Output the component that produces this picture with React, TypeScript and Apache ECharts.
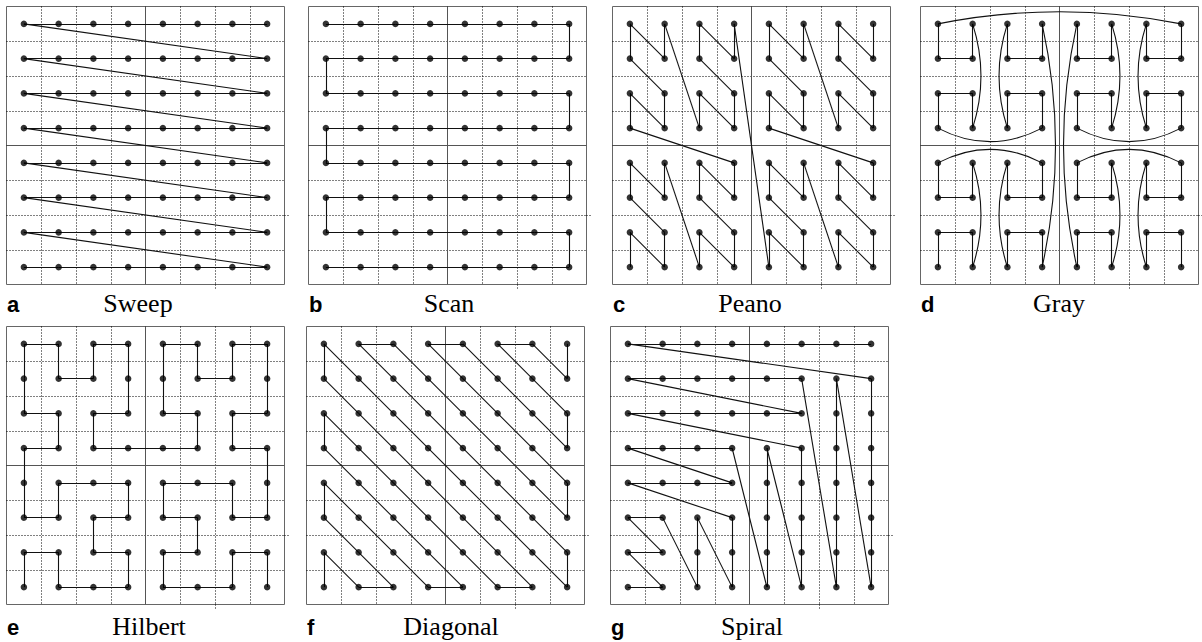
import React, { useEffect, useRef } from "react";
import * as echarts from "echarts";

type Cell = [number, number];

// Cell orders [column, row] (row 0 = top) of the seven scan curves
const sweepPath: Cell[] = [
  [7,0],[6,0],[5,0],[4,0],[3,0],[2,0],[1,0],[0,0],
  [7,1],[6,1],[5,1],[4,1],[3,1],[2,1],[1,1],[0,1],
  [7,2],[6,2],[5,2],[4,2],[3,2],[2,2],[1,2],[0,2],
  [7,3],[6,3],[5,3],[4,3],[3,3],[2,3],[1,3],[0,3],
  [7,4],[6,4],[5,4],[4,4],[3,4],[2,4],[1,4],[0,4],
  [7,5],[6,5],[5,5],[4,5],[3,5],[2,5],[1,5],[0,5],
  [7,6],[6,6],[5,6],[4,6],[3,6],[2,6],[1,6],[0,6],
  [7,7],[6,7],[5,7],[4,7],[3,7],[2,7],[1,7],[0,7],
];

const scanPath: Cell[] = [
  [0,0],[1,0],[2,0],[3,0],[4,0],[5,0],[6,0],[7,0],
  [7,1],[6,1],[5,1],[4,1],[3,1],[2,1],[1,1],[0,1],
  [0,2],[1,2],[2,2],[3,2],[4,2],[5,2],[6,2],[7,2],
  [7,3],[6,3],[5,3],[4,3],[3,3],[2,3],[1,3],[0,3],
  [0,4],[1,4],[2,4],[3,4],[4,4],[5,4],[6,4],[7,4],
  [7,5],[6,5],[5,5],[4,5],[3,5],[2,5],[1,5],[0,5],
  [0,6],[1,6],[2,6],[3,6],[4,6],[5,6],[6,6],[7,6],
  [7,7],[6,7],[5,7],[4,7],[3,7],[2,7],[1,7],[0,7],
];

const peanoPath: Cell[] = [
  [0,7],[0,6],[1,7],[1,6],[0,5],[0,4],[1,5],[1,4],
  [2,7],[2,6],[3,7],[3,6],[2,5],[2,4],[3,5],[3,4],
  [0,3],[0,2],[1,3],[1,2],[0,1],[0,0],[1,1],[1,0],
  [2,3],[2,2],[3,3],[3,2],[2,1],[2,0],[3,1],[3,0],
  [4,7],[4,6],[5,7],[5,6],[4,5],[4,4],[5,5],[5,4],
  [6,7],[6,6],[7,7],[7,6],[6,5],[6,4],[7,5],[7,4],
  [4,3],[4,2],[5,3],[5,2],[4,1],[4,0],[5,1],[5,0],
  [6,3],[6,2],[7,3],[7,2],[6,1],[6,0],[7,1],[7,0],
];

const grayPath: Cell[] = [
  [0,7],[0,6],[1,6],[1,7],[1,4],[1,5],[0,5],[0,4],
  [3,4],[3,5],[2,5],[2,4],[2,7],[2,6],[3,6],[3,7],
  [3,0],[3,1],[2,1],[2,0],[2,3],[2,2],[3,2],[3,3],
  [0,3],[0,2],[1,2],[1,3],[1,0],[1,1],[0,1],[0,0],
  [7,0],[7,1],[6,1],[6,0],[6,3],[6,2],[7,2],[7,3],
  [4,3],[4,2],[5,2],[5,3],[5,0],[5,1],[4,1],[4,0],
  [4,7],[4,6],[5,6],[5,7],[5,4],[5,5],[4,5],[4,4],
  [7,4],[7,5],[6,5],[6,4],[6,7],[6,6],[7,6],[7,7],
];

const hilbertPath: Cell[] = [
  [0,7],[0,6],[1,6],[1,7],[2,7],[3,7],[3,6],[2,6],
  [2,5],[3,5],[3,4],[2,4],[1,4],[1,5],[0,5],[0,4],
  [0,3],[1,3],[1,2],[0,2],[0,1],[0,0],[1,0],[1,1],
  [2,1],[2,0],[3,0],[3,1],[3,2],[2,2],[2,3],[3,3],
  [4,3],[5,3],[5,2],[4,2],[4,1],[4,0],[5,0],[5,1],
  [6,1],[6,0],[7,0],[7,1],[7,2],[6,2],[6,3],[7,3],
  [7,4],[7,5],[6,5],[6,4],[5,4],[4,4],[4,5],[5,5],
  [5,6],[4,6],[4,7],[5,7],[6,7],[6,6],[7,6],[7,7],
];

const diagonalPath: Cell[] = [
  [7,0],
  [7,1],[6,0],
  [5,0],[6,1],[7,2],
  [7,3],[6,2],[5,1],[4,0],
  [3,0],[4,1],[5,2],[6,3],[7,4],
  [7,5],[6,4],[5,3],[4,2],[3,1],[2,0],
  [1,0],[2,1],[3,2],[4,3],[5,4],[6,5],[7,6],
  [7,7],[6,6],[5,5],[4,4],[3,3],[2,2],[1,1],[0,0],
  [0,1],[1,2],[2,3],[3,4],[4,5],[5,6],[6,7],
  [5,7],[4,6],[3,5],[2,4],[1,3],[0,2],
  [0,3],[1,4],[2,5],[3,6],[4,7],
  [3,7],[2,6],[1,5],[0,4],
  [0,5],[1,6],[2,7],
  [1,7],[0,6],
  [0,7],
];

const spiralPath: Cell[] = [
  [0,7],[1,7],[0,6],[1,6],[0,5],[1,5],
  [2,7],[2,6],[2,5],[3,7],[3,6],[3,5],
  [0,4],[1,4],[2,4],[3,4],[0,3],[1,3],[2,3],[3,3],
  [4,7],[4,6],[4,5],[4,4],[4,3],[5,7],[5,6],[5,5],[5,4],[5,3],
  [0,2],[1,2],[2,2],[3,2],[4,2],[5,2],[0,1],[1,1],[2,1],[3,1],[4,1],[5,1],
  [6,7],[6,6],[6,5],[6,4],[6,3],[6,2],[6,1],
  [7,7],[7,6],[7,5],[7,4],[7,3],[7,2],[7,1],
  [0,0],[1,0],[2,0],[3,0],[4,0],[5,0],[6,0],[7,0],
];

const panelLetters = ["a", "b", "c", "d", "e", "f", "g"];
const panelNames = ["Sweep", "Scan", "Peano", "Gray", "Hilbert", "Diagonal", "Spiral"];
const panelPaths = [sweepPath, scanPath, peanoPath, grayPath, hilbertPath, diagonalPath, spiralPath];
const panelCurved = [false, false, false, true, false, false, false];

// quadrant dividers (solid) in cell units
const quadrantDividers: [number, number][][] = [
  [[4, 0], [4, 8]],
  [[0, 4], [8, 4]],
];

// layout (pixels)
const BOX = 278;
const boxes = [
  { left: 6.5, top: 6.5 },
  { left: 308.5, top: 6.5 },
  { left: 612.5, top: 6.5 },
  { left: 920.5, top: 6.5 },
  { left: 6.5, top: 326.5 },
  { left: 306.5, top: 326.5 },
  { left: 610.5, top: 326.5 },
];
const nameCenters = [138, 449, 750, 1059, 149, 451, 752];
const rowTextY = [304, 627];

const toPoint = (c: Cell) => [c[0] + 0.5, c[1] + 0.5];

function segmentsFor(path: Cell[], curved: boolean) {
  const out: any[] = [];
  for (let i = 0; i < path.length - 1; i++) {
    const a = path[i];
    const b = path[i + 1];
    const dc = b[0] - a[0];
    const dr = b[1] - a[1];
    const isArc = curved && Math.abs(dc) + Math.abs(dr) > 1;
    if (!isArc) {
      out.push({ coords: [toPoint(a), toPoint(b)] });
      continue;
    }
    let p1: Cell, p2: Cell, cv: number;
    if (dc === 0) {
      const top = a[1] < b[1] ? a : b;
      const bottom = top === a ? b : a;
      const bulgeRight = a[0] % 2 === 1;
      [p1, p2] = bulgeRight ? [top, bottom] : [bottom, top];
      cv = Math.abs(dr) > 4 ? 0.11 : 0.16;
    } else {
      const left = a[0] < b[0] ? a : b;
      const right = left === a ? b : a;
      const bulgeUp = a[1] % 2 === 0;
      [p1, p2] = bulgeUp ? [left, right] : [right, left];
      cv = Math.abs(dc) > 4 ? 0.1 : 0.26;
    }
    out.push({ coords: [toPoint(p1), toPoint(p2)], lineStyle: { curveness: cv } });
  }
  return out;
}

export default function App() {
  const ref = useRef<HTMLDivElement>(null);
  useEffect(() => {
    if (!ref.current) return;
    const chart = echarts.init(ref.current, undefined, { renderer: "svg" });
    const grid: any[] = [];
    const xAxis: any[] = [];
    const yAxis: any[] = [];
    const series: any[] = [];
    const graphic: any[] = [];
    const axisBase = {
      type: "value",
      min: 0,
      max: 8,
      interval: 1,
      axisLine: { show: false },
      axisTick: { show: false },
      axisLabel: { show: false },
      splitLine: {
        show: true,
        showMinLine: false,
        showMaxLine: false,
        lineStyle: { color: "#000", width: 1, type: [1, 2] },
      },
    };
    boxes.forEach((b, i) => {
      grid.push({
        left: b.left,
        top: b.top,
        width: BOX,
        height: BOX,
        show: true,
        borderColor: "#666",
        borderWidth: 1,
        backgroundColor: "transparent",
      });
      xAxis.push({ ...axisBase, gridIndex: i });
      yAxis.push({ ...axisBase, gridIndex: i, inverse: true });
      // small stubs of the offset dotted lines beyond the frame
      series.push({
        type: "lines",
        coordinateSystem: "cartesian2d",
        xAxisIndex: i,
        yAxisIndex: i,
        silent: true,
        clip: false,
        z: 1,
        lineStyle: { color: "#000", width: 1, type: [1, 2], opacity: 1 },
        data: [
          { coords: [[6, 8], [6, 8.12]] },
          { coords: [[8, 6], [8.12, 6]] },
        ],
      });
      series.push({
        type: "lines",
        coordinateSystem: "cartesian2d",
        xAxisIndex: i,
        yAxisIndex: i,
        silent: true,
        z: 2,
        lineStyle: { color: "#555", width: 1, opacity: 1 },
        data: quadrantDividers.map((d) => ({ coords: d })),
      });
      series.push({
        type: "lines",
        coordinateSystem: "cartesian2d",
        xAxisIndex: i,
        yAxisIndex: i,
        silent: true,
        z: 3,
        lineStyle: { color: "#111", width: 1.1, opacity: 1, curveness: 0 },
        data: segmentsFor(panelPaths[i], panelCurved[i]),
      });
      series.push({
        type: "scatter",
        xAxisIndex: i,
        yAxisIndex: i,
        silent: true,
        z: 4,
        symbol: "circle",
        symbolSize: 6.5,
        itemStyle: { color: "#000" },
        data: panelPaths[i].map(toPoint),
      });
      const ty = rowTextY[i < 4 ? 0 : 1];
      graphic.push({
        type: "text",
        x: b.left + 0.5,
        y: ty,
        style: {
          text: panelLetters[i],
          font: 'bold 22px "Liberation Sans", Arial, sans-serif',
          fill: "#000",
          textAlign: "left",
          textVerticalAlign: "middle",
        },
      });
      graphic.push({
        type: "text",
        x: nameCenters[i],
        y: ty - 1,
        style: {
          text: panelNames[i],
          font: '26px "Liberation Serif", "Times New Roman", serif',
          fill: "#000",
          textAlign: "center",
          textVerticalAlign: "middle",
        },
      });
    });
    chart.setOption({
      animation: false,
      backgroundColor: "#fff",
      grid,
      xAxis,
      yAxis,
      series,
      graphic,
    });
    return () => chart.dispose();
  }, []);
  return (
    <div
      ref={ref}
      style={{ position: "fixed", left: 0, top: 0, width: 1202, height: 642, background: "#fff" }}
    />
  );
}
